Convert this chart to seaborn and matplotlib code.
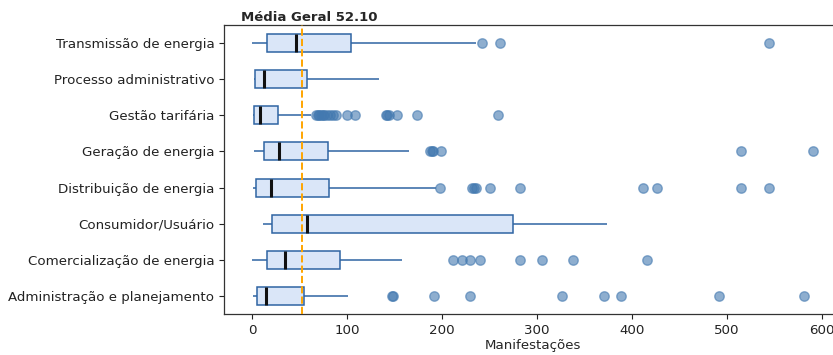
import matplotlib
matplotlib.use("Agg")
import matplotlib.pyplot as plt
import pandas as pd
import seaborn as sns

# Categories, listed top to bottom
categorias = [
    "Transmissão de energia",
    "Processo administrativo",
    "Gestão tarifária",
    "Geração de energia",
    "Distribuição de energia",
    "Consumidor/Usuário",
    "Comercialização de energia",
    "Administração e planejamento",
]

# Five-number summary of "Manifestações" per category
limite_inferior = [0, 1.5, 1, 1.5, 0.4, 11.6, 0, 0.4]
quartil_1 = [15.2, 3, 2, 12.6, 3.9, 20.7, 15.5, 4.6]
mediana = [46, 12.3, 8, 27.8, 19.7, 57.3, 34.4, 14.4]
quartil_3 = [104.3, 57.3, 27, 79.4, 81, 274.9, 92.4, 54.1]
limite_superior = [236, 133, 62, 164.7, 194, 373.2, 157.7, 101]

# Outlying observations per category
outliers = [
    [242, 261, 544],
    [],
    [67, 69, 70, 72, 74, 76, 79, 82, 85, 88, 100, 108, 141, 142, 144, 152, 173, 259],
    [187, 189, 190, 199, 515, 591],
    [198, 231, 234, 236, 250, 282, 412, 426, 515, 544],
    [],
    [211, 221, 229, 240, 282, 305, 338, 416],
    [147, 148, 191, 229, 326, 370, 388, 492, 581],
]

media_geral = 52.10

# Long-form table whose quartiles reproduce the summaries above
linhas = []
for cat, lo, q1, med, q3, hi, out in zip(categorias, limite_inferior, quartil_1,
                                          mediana, quartil_3, limite_superior, outliers):
    bloco = len(out) + 1
    valores = [lo] + [q1] * bloco + [med] * bloco + [q3] * bloco + [hi] + list(out)
    linhas += [(cat, v) for v in valores]
df = pd.DataFrame(linhas, columns=["categoria", "Manifestações"])

sns.set_theme(style="ticks")
plt.rcParams["font.family"] = ["DejaVu Sans"]

fig = plt.figure(figsize=(8.33, 3.55), dpi=100)
ax = fig.add_axes([0.2689, 0.1155, 0.7407, 0.8141])

azul = "#2f64a3"
sns.boxplot(
    data=df, x="Manifestações", y="categoria", order=categorias, orient="h",
    color="#dae6f8", linecolor=azul, saturation=1, width=0.5, whis=1.5,
    linewidth=1.1, showcaps=False, ax=ax,
    medianprops=dict(color="#111111", linewidth=2.2),
    flierprops=dict(marker="o", markerfacecolor="#4379b0", markeredgecolor="#4379b0",
                    markersize=6.8, alpha=0.6, linestyle="none"),
)

ax.axvline(media_geral, color="orange", linestyle="--", linewidth=1.4, zorder=5)

ax.set_xlim(-29.8, 620)
ax.set_xticks([0, 100, 200, 300, 400, 500, 600])
ax.set_xlabel("Manifestações", fontsize=9.6, labelpad=2)
ax.set_ylabel("")
ax.tick_params(axis="both", labelsize=9.6, length=3.5, width=0.8, colors="#222222",
               labelcolor="#222222")
for s in ax.spines.values():
    s.set_color("#333333")
    s.set_linewidth(0.9)

ax.set_title(f"Média Geral {media_geral:.2f}", loc="left", x=0.027,
             fontweight="bold", fontsize=9.5, pad=3)

fig.savefig("out.png", dpi=100)
